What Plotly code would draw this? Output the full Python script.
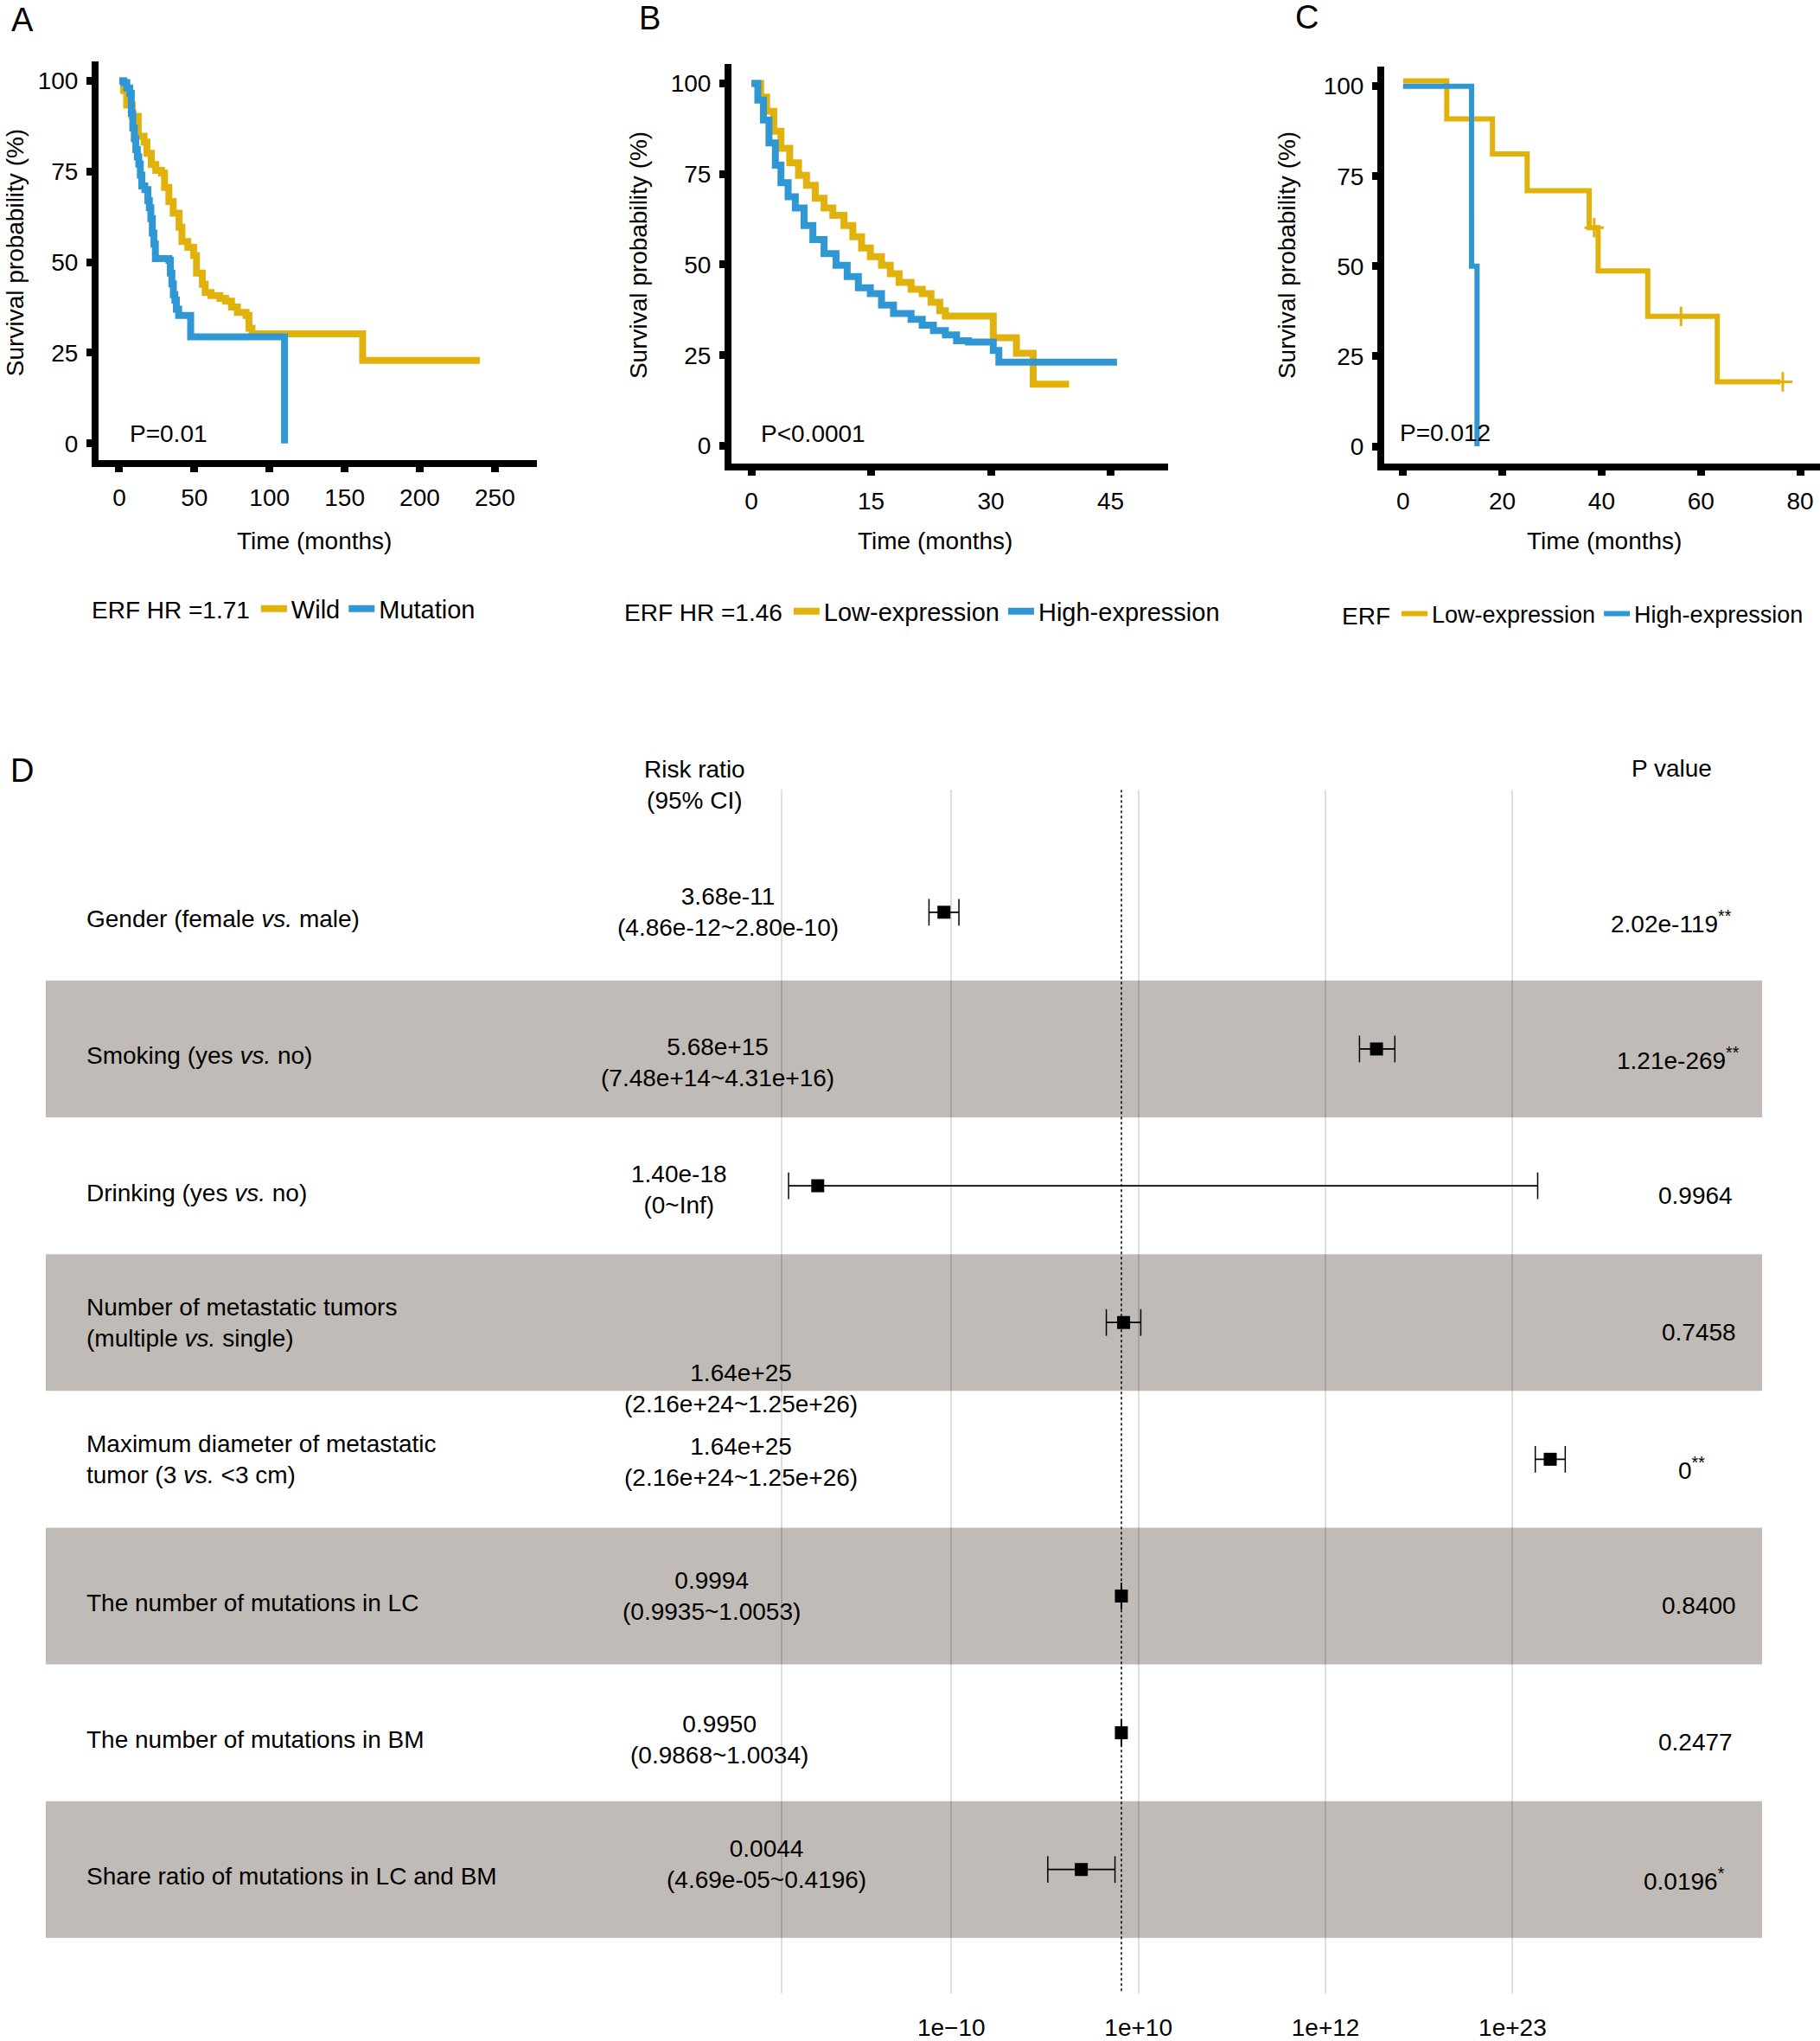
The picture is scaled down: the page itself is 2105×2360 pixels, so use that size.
import plotly.graph_objects as go

W, H = 2105, 2360
FONT = "Liberation Sans, Arial, sans-serif"
YEL = "#E2B20C"
BLU = "#2E97D4"
STRIPE = "#C0BBB7"

# ---------------- Panel A data (ERF wild vs mutation) ----------------
A_wild_t = [0, 2.9, 4.9, 8.7, 12.6, 16.5, 18.4, 21.3, 24.3, 28.1, 30.1, 33.0, 35.9, 39.8, 41.7,
            45.6, 49.5, 51.4, 55.3, 57.2, 61.1, 67.0, 70.8, 74.7, 78.6, 84.4, 86.3, 88.3, 162.0, 240.0]
A_wild_s = [100, 97.3, 93.3, 90.2, 84.7, 83.1, 80.0, 76.9, 75.3, 74.5, 70.6, 66.7, 63.5, 59.6, 55.7,
            54.1, 51.8, 47.0, 43.9, 41.6, 40.8, 40.0, 39.2, 37.6, 36.1, 35.3, 31.8, 30.2, 22.9, 22.9]
A_mut_t = [0, 3, 5, 7, 8, 9, 10, 11, 12, 13, 14, 15, 17, 19, 20, 21, 22, 23, 24, 33, 34, 35, 36,
           37, 38, 39.5, 47.5, 110]
A_mut_s = [100, 99.5, 98, 96.5, 91, 87, 84, 81, 79, 77, 74, 71, 70, 67, 65, 62, 58, 55, 51, 50.5,
           47, 44, 41, 39.5, 37, 35.3, 29.4, 0]
A_xticks = [0, 50, 100, 150, 200, 250]

# ---------------- Panel B data (low vs high expression) ----------------
B_low_t = [0, 1.16, 1.9, 2.8, 3.7, 4.8, 5.9, 6.9, 8.0, 9.1, 10.2, 11.6, 12.7, 13.8, 14.9, 16.3,
           17.4, 18.5, 20.0, 21.4, 22.5, 23.6, 24.3, 30.3, 33.2, 35.3, 39.8]
B_low_s = [100, 96.2, 92.3, 86.8, 82.1, 78.1, 74.6, 71.9, 68.3, 65.6, 63.6, 60.8, 57.7, 54.6, 52.2,
           49.8, 47.5, 45.1, 43.2, 42.0, 39.6, 37.3, 35.8, 29.8, 25.5, 17.0, 17.0]
B_high_t = [0, 0.8, 1.5, 2.2, 3.0, 3.7, 4.6, 5.5, 6.6, 7.7, 9.1, 10.6, 12.0, 13.4, 14.9, 16.3,
            17.8, 20.0, 21.4, 22.8, 24.3, 25.7, 27.2, 30.3, 31.0, 45.8]
B_high_s = [100, 95.4, 89.9, 83.6, 77.4, 72.6, 68.7, 65.6, 60.8, 56.9, 53.0, 49.8, 46.7, 43.6, 42.0,
            38.8, 36.5, 34.9, 33.3, 31.8, 30.6, 29.0, 28.6, 26.3, 23.1, 23.1]
B_xticks = [0, 15, 30, 45]

# ---------------- Panel C data ----------------
C_low_t = [0, 8.8, 18.0, 25.0, 37.5, 39.3, 49.3, 63.3, 76.0]
C_low_s = [101.5, 90.9, 81.2, 71.0, 60.7, 48.7, 36.1, 17.9, 17.9]
C_high_t = [0, 13.8, 14.9]
C_high_s = [100, 50, 0]
C_cens_t = [38.5, 56.0, 76.5]
C_cens_s = [60.7, 36.1, 17.9]
C_xticks = [0, 20, 40, 60, 80]

Y_ticks = [0, 25, 50, 75, 100]

# ---------------- Panel D data (forest plot) ----------------
rows = ["Gender (female <i>vs.</i> male)",
        "Smoking (yes <i>vs.</i> no)",
        "Drinking (yes <i>vs.</i> no)",
        "Number of metastatic tumors<br>(multiple <i>vs.</i> single)",
        "Maximum diameter of metastatic<br>tumor (3 <i>vs.</i> &lt;3 cm)",
        "The number of mutations in LC",
        "The number of mutations in BM",
        "Share ratio of mutations in LC and BM"]
# estimates / CI as drawn in the plot
rr_est = [3.68e-11, 1.0e15, 1.40e-18, 1.35, 1.64e25, 0.9994, 0.9950, 0.0044]
rr_lo = [4.86e-12, 1.0e14, 2.7e-20, 0.13, 2.16e24, 0.9935, 0.9868, 4.69e-05]
rr_hi = [2.80e-10, 1.2e16, 3.0e24, 13.8, 1.25e26, 1.0053, 1.0034, 0.4196]
rr_text = ["3.68e-11<br>(4.86e-12~2.80e-10)",
           "5.68e+15<br>(7.48e+14~4.31e+16)",
           "1.40e-18<br>(0~Inf)",
           "1.64e+25<br>(2.16e+24~1.25e+26)",
           "1.64e+25<br>(2.16e+24~1.25e+26)",
           "0.9994<br>(0.9935~1.0053)",
           "0.9950<br>(0.9868~1.0034)",
           "0.0044<br>(4.69e-05~0.4196)"]
p_text = ["2.02e-119<sup>**</sup>", "1.21e-269<sup>**</sup>", "0.9964", "0.7458",
          "0<sup>**</sup>", "0.8400", "0.2477", "0.0196<sup>*</sup>"]
f_tickvals = [1e-20, 1e-10, 10, 1e12, 1e23]
f_ticktext = [" ", "1e\u221210", "1e+10", "1e+12", "1e+23"]

# layout helpers (pixel -> paper)
def px(x):
    return x / W

def py(y):
    return 1 - y / H

# text placement (layout only)
rr_text_x = [842, 830, 785, 857, 857, 823, 832, 886]
rr_text_dy = [0, 0.1, 0.03, 0.48, 0.02, 0, 0.05, -0.04]
p_text_x = [1933, 1941, 1961, 1965, 1956, 1965, 1961, 1948]

fig = go.Figure()

# KM curves
km = [
    (A_wild_t, A_wild_s, YEL, "Wild", "x", "y", "legend", 8),
    (A_mut_t, A_mut_s, BLU, "Mutation", "x", "y", "legend", 8),
    (B_low_t, B_low_s, YEL, "Low-expression", "x2", "y2", "legend2", 8),
    (B_high_t, B_high_s, BLU, "High-expression", "x2", "y2", "legend2", 8),
    (C_low_t, C_low_s, YEL, "Low-expression", "x3", "y3", "legend3", 6),
    (C_high_t, C_high_s, BLU, "High-expression", "x3", "y3", "legend3", 6),
]
for t, s, col, name, xa, ya, lg, w in km:
    fig.add_trace(go.Scatter(x=t, y=s, mode="lines", name=name,
                             line=dict(color=col, width=w, shape="hv"),
                             xaxis=xa, yaxis=ya, legend=lg))
fig.add_trace(go.Scatter(x=C_cens_t, y=C_cens_s, mode="markers", showlegend=False,
                         marker=dict(symbol="cross-thin", size=16,
                                     line=dict(color=YEL, width=3)),
                         xaxis="x3", yaxis="y3"))

# Forest plot
nrow = len(rows)
ridx = list(range(nrow))
fig.add_trace(go.Scatter(x=[1, 1], y=[-0.895, 7.907], mode="lines", showlegend=False,
                         line=dict(color="black", width=1.5, dash="dot"),
                         xaxis="x4", yaxis="y4"))
for i in ridx:
    fig.add_trace(go.Scatter(x=[rr_lo[i], rr_hi[i]], y=[i, i], mode="lines+markers",
                             showlegend=False,
                             line=dict(color="black", width=1.8),
                             marker=dict(symbol="line-ns-open", size=22,
                                         line=dict(color="black", width=1.5)),
                             xaxis="x4", yaxis="y4"))
fig.add_trace(go.Scatter(x=rr_est, y=ridx, mode="markers", showlegend=False,
                         marker=dict(symbol="square", size=15, color="black"),
                         xaxis="x4", yaxis="y4"))

shapes = []
for i in ridx:
    if i % 2 == 1:
        shapes.append(dict(type="rect", xref="x4 domain", x0=0, x1=1, yref="y4",
                           y0=i - 0.5, y1=i + 0.5, fillcolor=STRIPE,
                           line=dict(width=0), layer="below"))

ann = []
tf = dict(family=FONT, size=28, color="black")
for i in ridx:
    ann.append(dict(text=rows[i], xref="paper", x=px(98), xanchor="left",
                    yref="y4", y=i, yanchor="middle", showarrow=False,
                    align="left", font=tf,
                    yshift=0 if "<br>" in rows[i] else -8))
    ann.append(dict(text=rr_text[i], xref="paper", x=px(rr_text_x[i]), xanchor="center",
                    yref="y4", y=i + rr_text_dy[i], yanchor="middle", showarrow=False,
                    align="center", font=tf))
    ann.append(dict(text=p_text[i], xref="paper", x=px(p_text_x[i]), xanchor="center",
                    yref="y4", y=i, yanchor="middle", showarrow=False, font=tf,
                    yshift=-11))
ann.append(dict(text="Risk ratio<br>(95% CI)", xref="paper", yref="paper", x=px(803),
                y=py(910), xanchor="center", yanchor="middle", showarrow=False, font=tf))
ann.append(dict(text="P value", xref="paper", yref="paper", x=px(1933), y=py(891),
                xanchor="center", yanchor="middle", showarrow=False, font=tf))

# panel letters
for letter, (lx, ly) in {"A": (26, 23), "B": (751, 21), "C": (1511, 20), "D": (25, 894)}.items():
    ann.append(dict(text=letter, xref="paper", yref="paper", x=px(lx), y=py(ly),
                    xanchor="center", yanchor="middle", showarrow=False,
                    font=dict(family=FONT, size=38, color="black")))

# KM axis titles and P values
for cx, cy in [(363, 627), (1081, 627), (1855, 627)]:
    ann.append(dict(text="Time (months)", xref="paper", yref="paper", x=px(cx), y=py(cy),
                    xanchor="center", yanchor="middle", showarrow=False, font=tf))
for cx, cy in [(17, 293), (738, 296), (1488, 296)]:
    ann.append(dict(text="Survival probability (%)", xref="paper", yref="paper", x=px(cx),
                    y=py(cy), xanchor="center", yanchor="middle", showarrow=False,
                    textangle=-90, font=tf))
for txt, xa, ya, tx, sy in [("P=0.01", "x", "y", 5.8, 2.6), ("P<0.0001", "x2", "y2", 1.0, 3.4),
                            ("P=0.012", "x3", "y3", -1.0, 3.7)]:
    ann.append(dict(text=txt, xref=xa, yref=ya, x=tx, y=sy, xanchor="left", yanchor="middle",
                    showarrow=False, font=tf))

km_axis = dict(showline=True, linewidth=8, linecolor="black", ticks="outside", ticklen=6,
               tickwidth=9, tickcolor="black", showgrid=False, zeroline=False,
               tickfont=dict(family=FONT, size=28, color="black"))
xk = dict(km_axis, ticklabelstandoff=5)
yk = dict(km_axis, ticklabelstandoff=4)

leg_common = dict(orientation="h", xanchor="left", yanchor="middle",
                  bgcolor="rgba(0,0,0,0)", itemwidth=30,
                  font=dict(family=FONT, size=29, color="black"))
ltf = dict(family=FONT, size=28, color="black")

fig.update_layout(
    width=W, height=H, margin=dict(l=0, r=0, t=0, b=0),
    paper_bgcolor="white", plot_bgcolor="white",
    font=dict(family=FONT, size=28, color="black"),
    xaxis=dict(xk, domain=[px(114), px(621)], range=[-13.8, 278], anchor="y", tickvals=A_xticks),
    yaxis=dict(yk, domain=[py(534), py(71)], range=[-4.7, 105.4], anchor="x", tickvals=Y_ticks),
    xaxis2=dict(xk, domain=[px(846), px(1351)], range=[-2.5, 52.2], anchor="y2", tickvals=B_xticks),
    yaxis2=dict(yk, domain=[py(538), py(74)], range=[-5, 105.4], anchor="x2", tickvals=Y_ticks),
    xaxis3=dict(xk, domain=[px(1601), 1.0], range=[-3.8, 84], anchor="y3", tickvals=C_xticks),
    yaxis3=dict(yk, domain=[py(538), py(77)], range=[-4.9, 105.5], anchor="x3", tickvals=Y_ticks),
    xaxis4=dict(type="log", domain=[px(53), px(2038)], range=[-63.24, 37.67], anchor="y4",
                tickvals=f_tickvals, ticktext=f_ticktext, showgrid=True,
                gridcolor="rgba(0,0,0,0.13)", gridwidth=1.5, zeroline=False, showline=False,
                ticks="", ticklabelstandoff=20,
                tickfont=dict(family=FONT, size=28, color="black")),
    yaxis4=dict(domain=[py(2312), py(916)], range=[7.907, -0.895], anchor="x4",
                visible=False),
    legend=dict(leg_common, x=px(104), y=py(706),
                title=dict(text="ERF HR =1.71", side="left", font=ltf)),
    legend2=dict(leg_common, x=px(720), y=py(709),
                 title=dict(text="ERF HR =1.46", side="left", font=ltf)),
    legend3=dict(leg_common, x=px(1550), y=py(712),
                 font=dict(family=FONT, size=27, color="black"),
                 title=dict(text="ERF", side="left", font=ltf)),
    shapes=shapes,
    annotations=ann,
)

fig.write_html("out.html", config={"displayModeBar": False},
               post_script="document.body.style.margin='0';"
                           "document.body.style.overflow='hidden';")
